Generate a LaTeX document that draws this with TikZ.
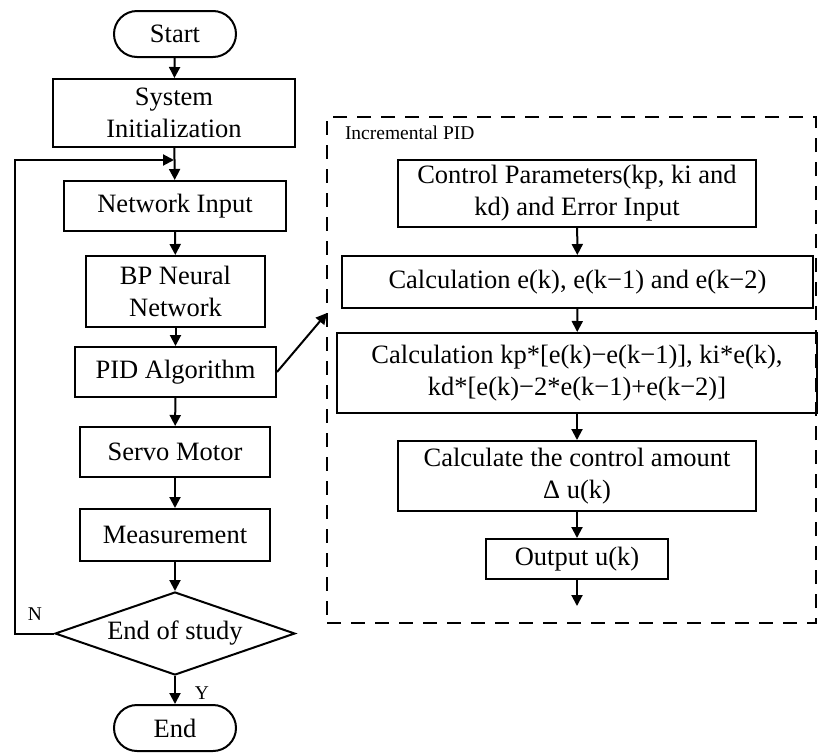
\documentclass[tikz,border=0pt]{standalone}
\usepackage{fontspec}
\setmainfont{Liberation Serif}
\usetikzlibrary{arrows.meta,shapes.geometric}
\begin{document}
\begin{tikzpicture}[x=1pt,y=-1pt,
  line width=2pt,
  every node/.style={font=\fontsize{26.5}{32}\selectfont, align=center, inner sep=0pt},
  proc/.style={draw, rectangle},
  term/.style={draw, rectangle, rounded corners=23pt, minimum width=122pt, minimum height=46pt},
  decide/.style={draw, diamond, aspect=2.9, minimum width=240pt, minimum height=83pt},
  note/.style={font=\fontsize{19.5}{22}\selectfont},
  arr/.style={-{Triangle[length=11pt,width=11pt]}},
  grpbox/.style={draw, dash pattern=on 14pt off 10pt}]
\useasboundingbox (0,0) rectangle (819,753);

% main loop
\node[term] (start) at (175,34) {Start};
\node[proc, minimum width=242pt, minimum height=68pt] (sys) at (174,113) {System\\Initialization};
\node[proc, minimum width=222pt, minimum height=50pt] (net) at (175,206) {Network Input};
\node[proc, minimum width=179pt, minimum height=71pt] (bp) at (175.5,291.5) {BP Neural\\Network};
\node[proc, minimum width=201pt, minimum height=50pt] (pid) at (175.5,372) {PID Algorithm};
\node[proc, minimum width=190pt, minimum height=50pt] (servo) at (175,452) {Servo Motor};
\node[proc, minimum width=190pt, minimum height=52pt] (meas) at (175,535) {Measurement};
\node[decide] (dec) at (175,633.5) {End of study};
\node[term] (end) at (175,728) {End};

\coordinate (jn) at (174,160);
\coordinate (fb) at (15,160);

\draw[arr] (start) -- (sys);
\draw[arr] (sys) -- (net);
\draw[arr] (net) -- (bp);
\draw[arr] (bp) -- (pid);
\draw[arr] (pid) -- (servo);
\draw[arr] (servo) -- (meas);
\draw[arr] (meas) -- (dec);
\draw[arr] (dec) -- (end);
\draw[arr] (dec.west) -| (fb) -- (jn);

\node[note] (nlab) at (35,614) {N};
\node[note] (ylab) at (202,693) {Y};

% incremental PID block
\node[grpbox, minimum width=489pt, minimum height=506pt] (grp) at (571.5,370) {};
\node[note, anchor=west] (glab) at (344,133) {Incremental PID};
\coordinate (gin) at (327,313);
\draw[arr] (pid.east) -- (gin);

\node[proc, minimum width=358pt, minimum height=67pt] (par) at (577,193.5) {Control Parameters(kp, ki and\\kd) and Error Input};
\node[proc, minimum width=471pt, minimum height=52pt] (err) at (577.5,282) {Calculation e(k), e(k−1) and e(k−2)};
\node[proc, minimum width=480pt, minimum height=80pt] (terms) at (577,373) {Calculation kp*[e(k)−e(k−1)], ki*e(k),\\kd*[e(k)−2*e(k−1)+e(k−2)]};
\node[proc, minimum width=358pt, minimum height=70pt] (inc) at (577,476) {Calculate the control amount\\Δ u(k)};
\node[proc, minimum width=182pt, minimum height=40pt] (out) at (577,559) {Output u(k)};
\coordinate (oend) at (577,606);

\draw[arr] (par) -- (err);
\draw[arr] (err) -- (terms);
\draw[arr] (terms) -- (inc);
\draw[arr] (inc) -- (out);
\draw[arr] (out) -- (oend);
\end{tikzpicture}
\end{document}
